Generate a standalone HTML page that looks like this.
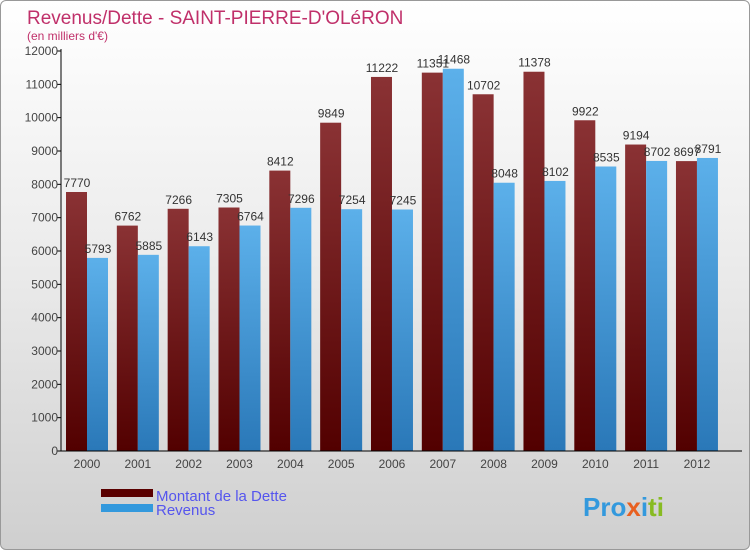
<!DOCTYPE html>
<html><head><meta charset="utf-8"><style>
body{margin:0;}
#wrap{position:relative;width:748px;height:548px;border:1px solid #999;border-radius:6px;overflow:hidden;background:linear-gradient(#ffffff 0%,#eaeaea 50%,#cfcfcf 100%);font-family:"Liberation Sans",sans-serif;}
svg text{font-family:"Liberation Sans",sans-serif;}
</style></head><body>
<div id="wrap">
<svg id="chart" width="748" height="548">
<defs>
<linearGradient id="gd" x1="0" y1="1" x2="0" y2="0"><stop offset="0" stop-color="#520000"/><stop offset="1" stop-color="#8a3234"/></linearGradient>
<linearGradient id="gr" x1="0" y1="1" x2="0" y2="0"><stop offset="0" stop-color="#2a78b8"/><stop offset="1" stop-color="#5cb0ea"/></linearGradient>
</defs>
<text x="26" y="23" font-size="19" fill="#c0306a">Revenus/Dette - SAINT-PIERRE-D'OLéRON</text>
<text x="26" y="39" font-size="12" fill="#c0306a">(en milliers d'€)</text>
<g id="plot"></g>
<rect x="100" y="488" width="52" height="8" fill="#5a0000"/>
<rect x="100" y="503" width="52" height="8" fill="#3399dd"/>
<text x="155" y="500" font-size="15" fill="#5555ee">Montant de la Dette</text>
<text x="155" y="514" font-size="15" fill="#5555ee">Revenus</text>
<text x="582" y="515" font-size="26" font-weight="bold" fill="#e8a020"><tspan fill="#3399dd">Pro</tspan><tspan fill="#e86020">x</tspan><tspan fill="#3399dd">i</tspan><tspan fill="#88bb22">ti</tspan></text>
</svg>
</div>
<script>
const years=["2000","2001","2002","2003","2004","2005","2006","2007","2008","2009","2010","2011","2012"];
const dette=[7770,6762,7266,7305,8412,9849,11222,11351,10702,11378,9922,9194,8697];
const revenus=[5793,5885,6143,6764,7296,7254,7245,11468,8048,8102,8535,8702,8791];
const yTicks=[0,1000,2000,3000,4000,5000,6000,7000,8000,9000,10000,11000,12000];
const NS="http://www.w3.org/2000/svg";
const g=document.getElementById('plot');
const X0=60,Y0=450,YMAX=12000,PH=400,STEP=50.83;
function y(v){return Y0-v/YMAX*PH;}
function xc(i){return 86+i*STEP;}
function mk(t,a){const e=document.createElementNS(NS,t);for(const k in a)e.setAttribute(k,a[k]);g.appendChild(e);return e;}
yTicks.forEach(v=>{
 const l=mk('line',{x1:X0-4,x2:X0,y1:y(v),y2:y(v),stroke:'#000'});
 
 
 const t=mk('text',{x:X0-3,y:y(v)+4,'font-size':12,fill:'#444','text-anchor':'end'});
 t.textContent=v;
 
 
});
years.forEach((yr,i)=>{
 const c=xc(i);
 const b1=mk('rect',{x:c-21,y:y(dette[i]),width:21,height:Y0-y(dette[i]),fill:'url(#gd)'});
 
 
 const b2=mk('rect',{x:c,y:y(revenus[i]),width:21,height:Y0-y(revenus[i]),fill:'url(#gr)'});
 
 
 const t1=mk('text',{x:c-10,y:y(dette[i])-5,'font-size':12,fill:'#333','text-anchor':'middle'});
 t1.textContent=dette[i];
 
 
 const t2=mk('text',{x:c+11,y:y(revenus[i])-5,'font-size':12,fill:'#333','text-anchor':'middle'});
 t2.textContent=revenus[i];
 
 
 const xt=mk('text',{x:c,y:467,'font-size':12,fill:'#444','text-anchor':'middle'});
 xt.textContent=yr;
 
 
});
const ya=mk('line',{x1:X0,x2:X0,y1:48,y2:Y0,stroke:'#000'});


const xa=mk('line',{x1:X0,x2:741,y1:Y0,y2:Y0,stroke:'#000'});


</script>
</body></html>
